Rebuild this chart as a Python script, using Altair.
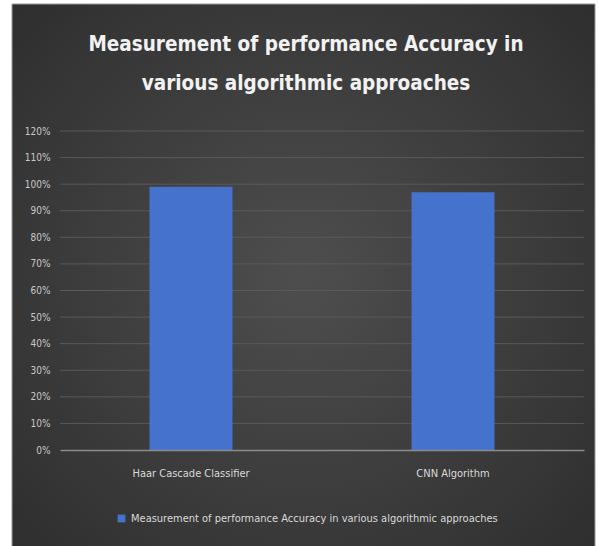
import altair as alt
import pandas as pd

categories = ["Haar Cascade Classifier", "CNN Algorithm"]
accuracy = [0.99, 0.97]
series_name = "Measurement of performance Accuracy in various algorithmic approaches"
title_lines = ["Measurement of performance Accuracy in", "various algorithmic approaches"]
y_ticks = [0.0, 0.1, 0.2, 0.3, 0.4, 0.5, 0.6, 0.7, 0.8, 0.9, 1.0, 1.1, 1.2]

df = pd.DataFrame({"approach": categories, "accuracy": accuracy, "series": [series_name] * len(categories)})
grid_df = pd.DataFrame({"tick": y_ticks[1:]})

FONT = "DejaVu Sans Condensed, sans-serif"
TITLE_FONT = "DejaVu Sans Condensed, sans-serif"
yscale = alt.Scale(domain=[0, 1.2], nice=False)
yaxis = alt.Axis(format=".0%", values=y_ticks, labelColor="#c8c8c8",
                 labelFont=FONT, labelFontSize=10, labelPadding=10, ticks=False, domain=False,
                 grid=False, zindex=1)

panel = alt.Chart(alt.Data(values=[{"p": 1}])).mark_rect(
    fill=alt.RadialGradient(
        gradient="radial",
        stops=[alt.GradientStop(color="#4e4e4e", offset=0), alt.GradientStop(color="#2b2b2b", offset=1)],
        x1=0.5, y1=0.5, r1=0, x2=0.5, y2=0.5, r2=0.75,
    ),
    stroke="#9a9a9a", strokeWidth=1,
).encode(x=alt.value(-48), x2=alt.value(535), y=alt.value(-127), y2=alt.value(418))

grid = alt.Chart(grid_df).mark_rule(color="#5a5a5a", strokeWidth=1).encode(
    y=alt.Y("tick:Q", title=None, scale=yscale, axis=yaxis),
)

bars = alt.Chart(df).mark_bar(size=83).encode(
    x=alt.X("approach:N", sort=categories, title=None,
            scale=alt.Scale(paddingInner=0.683, paddingOuter=0.3415),
            axis=alt.Axis(labelAngle=0, labelColor="#d9d9d9", labelFont=FONT, labelFontSize=11,
                          labelPadding=17, ticks=False, domainColor="#8c8c8c", domainWidth=1.5,
                          grid=False, zindex=1)),
    y=alt.Y("accuracy:Q", title=None, scale=yscale, axis=yaxis),
    color=alt.Color("series:N", title=None,
                    scale=alt.Scale(range=["#4472cc"]),
                    legend=alt.Legend(orient="none", legendX=56, legendY=382, symbolType="square",
                                      symbolSize=60, symbolStrokeWidth=0, labelColor="#d9d9d9",
                                      labelFont=FONT, labelFontSize=11, labelLimit=600)),
)

chart = alt.layer(panel, grid, bars).properties(
    width=524, height=319,
    background="#ffffff",
    padding={"left": 60, "top": 131, "right": 15, "bottom": 96},
    autosize=alt.AutoSizeParams(type="none"),
    title=alt.Title(title_lines, color="#f2f2f2", font=TITLE_FONT, fontSize=20.5, fontWeight="bold",
                    anchor="middle", frame="group", lineHeight=39, offset=-91, dx=-16, zindex=2),
).configure_view(stroke=None)

chart.save("out.html", embed_options={"renderer": "svg", "actions": False})
